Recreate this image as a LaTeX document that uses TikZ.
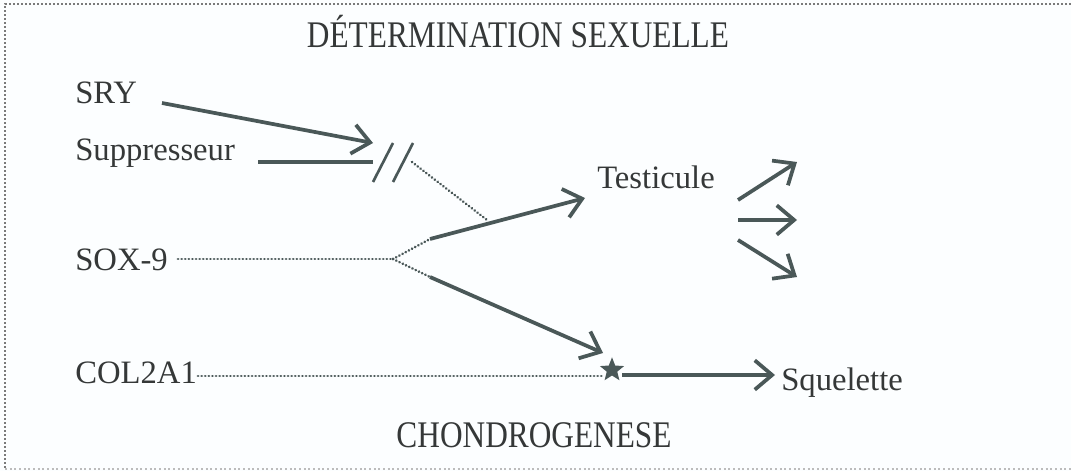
\documentclass[tikz,border=0pt]{standalone}
\usepackage{fontspec}
\setmainfont{Liberation Serif}
\usepackage{graphicx}
\usetikzlibrary{arrows.meta,shapes.geometric}
\definecolor{ink}{HTML}{353838}
\definecolor{arr}{HTML}{4A5858}
\definecolor{frame}{HTML}{7A7A7A}
\tikzset{
  lbl/.style={anchor=base west, inner sep=0pt, text=ink, font=\fontsize{24.5}{28}\selectfont},
  ttl/.style={anchor=base, inner sep=0pt, text=ink, font=\fontsize{23.5}{27}\selectfont},
  solidln/.style={draw=arr, line width=2.8pt},
  arrowln/.style={draw=arr, line width=2.8pt, -{Straight Barb[length=13pt,width=22pt,line width=2.8pt]}},
  dotln/.style={draw=arr, line width=2.1pt, line cap=round, dash pattern=on 0.1pt off 2.6pt},
}
\begin{document}
\begin{tikzpicture}[x=0.75pt,y=-0.75pt]
\useasboundingbox (0,0) rectangle (1071,471);
\fill[white!99!cyan] (0,0) rectangle (1071,471);
% frame
\draw[frame, line width=2pt, dash pattern=on 1.5pt off 1.5pt] (1071,4) -- (5,4) -- (5,469);
\draw[frame!50, line width=1.5pt, dash pattern=on 1.5pt off 2pt] (5,469) -- (1071,469);

% titles
\node[ttl] (titre) at (518,47) {\scalebox{1}[1.2]{DÉTERMINATION SEXUELLE}};
\node[ttl] (chondro) at (534,447) {\scalebox{1}[1.2]{CHONDROGENESE}};

% labels
\node[lbl] (sry) at (75,103) {SRY};
\node[lbl] (supp) at (75,160) {Suppresseur};
\node[lbl] (sox) at (75,270) {SOX-9};
\node[lbl] (col) at (75,383) {COL2A1};
\node[lbl] (testi) at (597,188) {Testicule};
\node[lbl] (sque) at (781,390) {Squelette};

% coordinates
\coordinate (srys) at (162,103);
\coordinate (slashtip) at (373,143);
\coordinate (supps) at (258,162);
\coordinate (suppe) at (373,162);
\coordinate (s1a) at (373,182); \coordinate (s1b) at (393,143);
\coordinate (s2a) at (393,182); \coordinate (s2b) at (413,143);
\coordinate (dots) at (412,162);
\coordinate (dote) at (487,220);
\coordinate (soxs) at (178,259);
\coordinate (junc) at (393,259);
\coordinate (upb) at (430,239);
\coordinate (upt) at (585,198);
\coordinate (dnb) at (430,277);
\coordinate (dnt) at (603,353);
\coordinate (cols) at (198,376);
\coordinate (cole) at (602,376);
\node[star, star points=5, star point ratio=2.3, fill=arr, inner sep=0pt, minimum size=19pt] (etoile) at (612,370) {};
\coordinate (sqs) at (622,375);
\coordinate (sqt) at (775,375);
\coordinate (r1s) at (738,200); \coordinate (r1t) at (797,162);
\coordinate (r2s) at (738,220); \coordinate (r2t) at (797,220);
\coordinate (r3s) at (738,240); \coordinate (r3t) at (797,277);

% connectors
\draw[arrowln] (srys) -- (slashtip);
\draw[solidln] (supps) -- (suppe);
\draw[draw=arr, line width=2pt] (s1a) -- (s1b);
\draw[draw=arr, line width=2pt] (s2a) -- (s2b);
\draw[dotln] (dots) -- (dote);
\draw[dotln] (soxs) -- (junc);
\draw[dotln] (junc) -- (upb);
\draw[dotln] (junc) -- (dnb);
\draw[arrowln] (upb) -- (upt);
\draw[arrowln] (dnb) -- (dnt);
\draw[dotln] (cols) -- (cole);
\draw[arrowln] (sqs) -- (sqt);
\draw[arrowln] (r1s) -- (r1t);
\draw[arrowln] (r2s) -- (r2t);
\draw[arrowln] (r3s) -- (r3t);
\end{tikzpicture}
\end{document}
